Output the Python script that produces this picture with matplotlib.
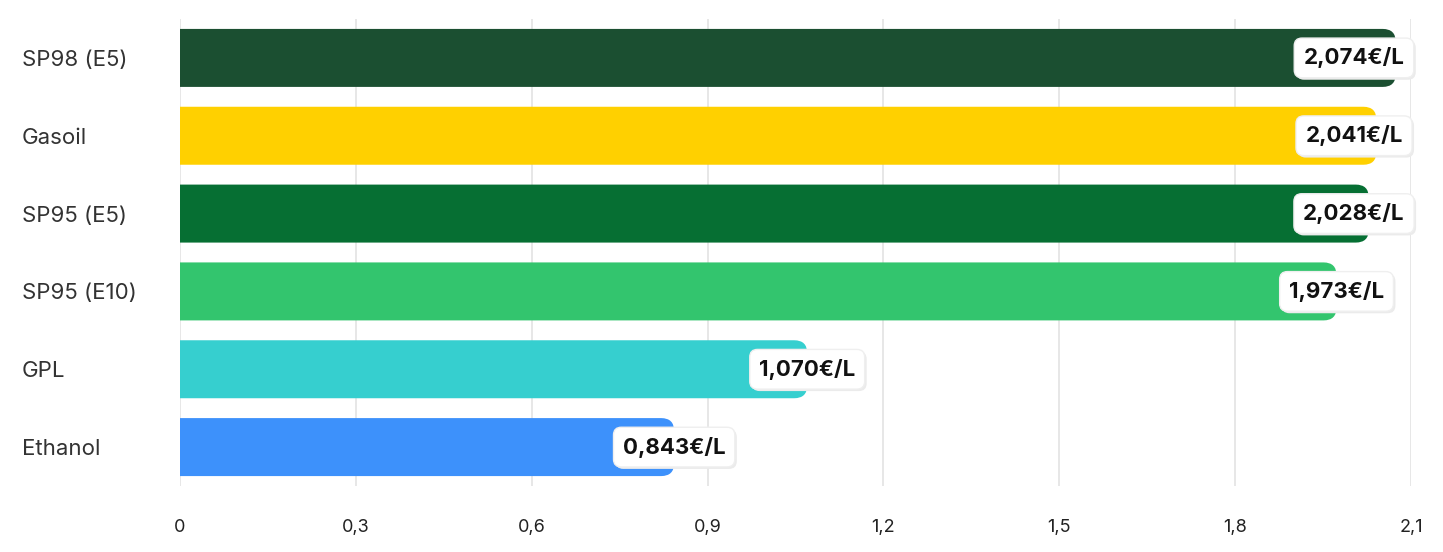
import matplotlib.pyplot as plt
from matplotlib.patches import FancyBboxPatch
import numpy as np

# données
carburants = ['SP98 (E5)', 'Gasoil', 'SP95 (E5)', 'SP95 (E10)', 'GPL', 'Ethanol']
prix = [2.074, 2.041, 2.028, 1.973, 1.070, 0.843]
couleurs = ['#1b4f31', '#ffd000', '#066f33', '#33c56e', '#36cfcf', '#3d91fb']
ticks_x = [0, 0.3, 0.6, 0.9, 1.2, 1.5, 1.8, 2.1]

plt.rcParams['font.family'] = ['Inter', 'DejaVu Sans']

fig = plt.figure(figsize=(14.43, 5.52), dpi=100)
ax = fig.add_axes([180 / 1443, 1 - 486 / 552, 1231 / 1443, 467 / 552])

xmax = 2.1
ax.set_xlim(0, xmax)
ax.set_ylim(len(carburants) - 0.5, -0.5)

# taille d'un pixel en unités de données
px_x = xmax / 1231
px_y = 6 / 467
hauteur = 0.745
rayon = 13 * px_x

y = np.arange(len(carburants))
for i, (v, c) in enumerate(zip(prix, couleurs)):
    # barre arrondie à droite (la partie gauche est coupée par l'axe)
    p = FancyBboxPatch((-3 * rayon, y[i] - hauteur / 2), v + 3 * rayon, hauteur,
                       boxstyle=f'round,pad=0,rounding_size={rayon}',
                       mutation_aspect=px_y / px_x,
                       facecolor=c, edgecolor='none', zorder=2)
    ax.add_patch(p)

# étiquettes des valeurs
demi_boite = 57 * px_x
for i, v in enumerate(prix):
    xl = min(v, xmax - demi_boite)
    txt = f'{v:.3f}'.replace('.', ',') + '€/L'
    # ombre légère
    ax.text(xl + 2 * px_x, y[i] + 2 * px_y, txt, ha='center', va='center', fontsize=16,
            fontweight='bold', color='none', zorder=3,
            bbox=dict(boxstyle='round,pad=0.42,rounding_size=0.35', facecolor='#ebebeb',
                      edgecolor='none'))
    ax.text(xl, y[i], txt, ha='center', va='center', fontsize=16, fontweight='bold',
            color='#111111', zorder=4,
            bbox=dict(boxstyle='round,pad=0.42,rounding_size=0.35', facecolor='white',
                      edgecolor='#efefef', linewidth=1))

ax.set_xticks(ticks_x)
ax.set_xticklabels([f'{t:g}'.replace('.', ',') for t in ticks_x], fontsize=13, color='#222222')
ax.set_yticks(y)
ax.set_yticklabels(carburants, fontsize=16, color='#333333', ha='left')
ax.tick_params(axis='y', length=0, pad=158 * 0.72)
ax.tick_params(axis='x', length=0, pad=24)

ax.grid(axis='x', color='#e3e3e3', linewidth=1.2, zorder=0)
ax.set_axisbelow(True)
for s in ax.spines.values():
    s.set_visible(False)

fig.savefig('out.png', dpi=100)
